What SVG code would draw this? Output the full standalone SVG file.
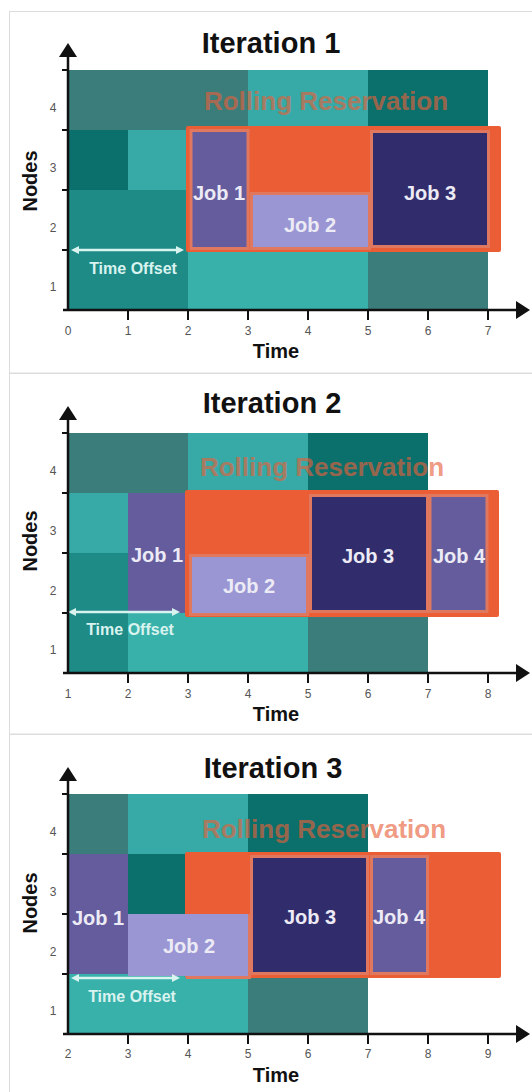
<svg xmlns="http://www.w3.org/2000/svg" width="532" height="1092" viewBox="0 0 532 1092">
<style>
.panel{fill:#fff;stroke:#dcdcdc;stroke-width:1}
.title{font-family:"Liberation Sans",Arial,sans-serif;font-weight:bold;font-size:29px;fill:#111;text-anchor:middle}
.axl{font-family:"Liberation Sans",Arial,sans-serif;font-weight:bold;font-size:20px;fill:#111;text-anchor:middle}
.tick{font-family:"Liberation Sans",Arial,sans-serif;font-size:12px;fill:#555;text-anchor:middle}
.job{font-family:"Liberation Sans",Arial,sans-serif;font-weight:bold;font-size:20px;fill:#ecebf5;text-anchor:middle}
.off{font-family:"Liberation Sans",Arial,sans-serif;font-weight:bold;font-size:16px;fill:#d9f3ef;text-anchor:middle}
.roll{font-family:"Liberation Sans",Arial,sans-serif;font-weight:bold;font-size:26px;fill:#e8603a;fill-opacity:0.65;text-anchor:middle}
.gt{fill:#3a7d7a}.lt{fill:#37a9a6}.dt{fill:#0b6f6c}.mt{fill:#1e8b87}.lt1{fill:#39b1ab}
.res{fill:#ea5d35}
.j1{fill:#655c9e}.j2{fill:#9a96d3}.j3{fill:#312d6c}
.jb{stroke:#e0785f;stroke-width:3}
.axis{stroke:#111;stroke-width:2.5;fill:none}
.tk{stroke:#111;stroke-width:2}
.offl{stroke:#d9f3ef;stroke-width:2.5}
</style>
<defs>
<marker id="ah" viewBox="0 0 14 18" refX="0" refY="9" markerWidth="14" markerHeight="18" markerUnits="userSpaceOnUse" orient="auto"><path d="M0,0 L14,9 L0,18 z" fill="#111"/></marker>
<marker id="oa" viewBox="0 0 8 8" refX="4" refY="4" markerWidth="8" markerHeight="8" markerUnits="userSpaceOnUse" orient="auto-start-reverse"><path d="M0,0 L8,4 L0,8 z" fill="#d9f3ef"/></marker>
</defs>

<!-- Panel 1 -->
<g id="panel1">
<rect class="panel" x="9.5" y="11.5" width="540" height="361.5"/>
<text class="title" x="271" y="53">Iteration 1</text>
<g id="p1-blocks">
<rect class="gt" x="68" y="70" width="180" height="60"/>
<rect class="lt" x="248" y="70" width="120" height="60"/>
<rect class="dt" x="368" y="70" width="120" height="60"/>
<rect class="dt" x="68" y="130" width="60" height="60"/>
<rect class="lt" x="128" y="130" width="60" height="60"/>
<rect class="mt" x="68" y="190" width="120" height="120"/>
<rect class="lt1" x="188" y="250" width="180" height="60"/>
<rect class="gt" x="368" y="250" width="120" height="60"/>
</g>
<text class="roll" x="326" y="110">Rolling Reservation</text>
<g id="p1-reservation">
<rect class="res" x="186" y="126" width="315" height="126" rx="2"/>
</g>
<g id="p1-job1"><rect class="j1 jb" x="191" y="130.5" width="57" height="118"/><text class="job" x="219" y="200">Job 1</text></g>
<g id="p1-job2"><rect class="j2 jb" x="251.5" y="193.5" width="118" height="55"/><text class="job" x="310" y="232">Job 2</text></g>
<g id="p1-job3"><rect class="j3 jb" x="371.5" y="131.5" width="117" height="115"/><text class="job" x="430" y="200">Job 3</text></g>
<g id="p1-offset">
<line class="offl" x1="75" y1="250" x2="180" y2="250" marker-start="url(#oa)" marker-end="url(#oa)"/>
<text class="off" x="133" y="274">Time Offset</text>
</g>
<g id="p1-axes">
<line class="axis" x1="63" y1="310" x2="516" y2="310" marker-end="url(#ah)"/>
<line class="axis" x1="68" y1="311" x2="68" y2="57" marker-end="url(#ah)"/>
<path class="tk" d="M62,70H68M62,130H68M62,190H68M62,250H68M128,310V320M188,310V320M248,310V320M308,310V320M368,310V320M428,310V320M488,310V320"/>
<text class="tick" x="53" y="112">4</text><text class="tick" x="53" y="172">3</text><text class="tick" x="53" y="232">2</text><text class="tick" x="53" y="291">1</text>
<text class="tick" x="68" y="335">0</text><text class="tick" x="128" y="335">1</text><text class="tick" x="188" y="335">2</text><text class="tick" x="248" y="335">3</text><text class="tick" x="308" y="335">4</text><text class="tick" x="368" y="335">5</text><text class="tick" x="428" y="335">6</text><text class="tick" x="488" y="335">7</text>
<text class="axl" x="276" y="358">Time</text>
<text class="axl" transform="translate(37,181) rotate(-90)">Nodes</text>
</g>
</g>

<!-- Panel 2 -->
<g id="panel2">
<rect class="panel" x="9.5" y="373.5" width="540" height="360.5"/>
<text class="title" x="272" y="413">Iteration 2</text>
<g id="p2-blocks">
<rect class="gt" x="68" y="433" width="120" height="60"/>
<rect class="lt" x="188" y="433" width="120" height="60"/>
<rect class="dt" x="308" y="433" width="120" height="60"/>
<rect class="lt" x="68" y="493" width="60" height="60"/>
<rect class="mt" x="68" y="553" width="60" height="120"/>
<rect class="lt1" x="128" y="613" width="180" height="60"/>
<rect class="gt" x="308" y="613" width="120" height="60"/>
</g>
<g id="p2-job1"><rect class="j1" x="128" y="493" width="60" height="120"/><text class="job" x="157" y="562">Job 1</text></g>
<text class="roll" x="322" y="476">Rolling Reservation</text>
<g id="p2-reservation">
<rect class="res" x="185" y="490" width="314" height="127" rx="2"/>
</g>
<g id="p2-job2"><rect class="j2 jb" x="190.5" y="555.5" width="117" height="59"/><text class="job" x="249" y="593">Job 2</text></g>
<g id="p2-job3"><rect class="j3 jb" x="310.5" y="495.5" width="117" height="116"/><text class="job" x="368" y="563">Job 3</text></g>
<g id="p2-job4"><rect class="j1 jb" x="430" y="495.5" width="57" height="116"/><text class="job" x="459" y="563">Job 4</text></g>
<g id="p2-offset">
<line class="offl" x1="72" y1="612" x2="176" y2="612" marker-start="url(#oa)" marker-end="url(#oa)"/>
<text class="off" x="130" y="635">Time Offset</text>
</g>
<g id="p2-axes">
<line class="axis" x1="63" y1="673" x2="516" y2="673" marker-end="url(#ah)"/>
<line class="axis" x1="68" y1="674" x2="68" y2="420" marker-end="url(#ah)"/>
<path class="tk" d="M62,433H68M62,493H68M62,553H68M62,613H68M128,673V683M188,673V683M248,673V683M308,673V683M368,673V683M428,673V683M488,673V683"/>
<text class="tick" x="53" y="475">4</text><text class="tick" x="53" y="535">3</text><text class="tick" x="53" y="595">2</text><text class="tick" x="53" y="654">1</text>
<text class="tick" x="68" y="698">1</text><text class="tick" x="128" y="698">2</text><text class="tick" x="188" y="698">3</text><text class="tick" x="248" y="698">4</text><text class="tick" x="308" y="698">5</text><text class="tick" x="368" y="698">6</text><text class="tick" x="428" y="698">7</text><text class="tick" x="488" y="698">8</text>
<text class="axl" x="276" y="721">Time</text>
<text class="axl" transform="translate(37,541) rotate(-90)">Nodes</text>
</g>
</g>

<!-- Panel 3 -->
<g id="panel3">
<rect class="panel" x="9.5" y="734.5" width="540" height="400"/>
<text class="title" x="273" y="778">Iteration 3</text>
<g id="p3-blocks">
<rect class="gt" x="68" y="794" width="60" height="60"/>
<rect class="lt" x="128" y="794" width="120" height="60"/>
<rect class="dt" x="248" y="794" width="120" height="60"/>
<rect class="dt" x="128" y="854" width="60" height="60"/>
<rect class="lt1" x="68" y="974" width="180" height="60"/>
<rect class="gt" x="248" y="974" width="120" height="60"/>
</g>
<g id="p3-job1"><rect class="j1" x="68" y="854" width="60" height="120"/><text class="job" x="98" y="925">Job 1</text></g>
<text class="roll" x="324" y="838">Rolling Reservation</text>
<g id="p3-reservation">
<rect class="res" x="185" y="852" width="316" height="126" rx="2"/>
</g>
<g id="p3-job2"><rect class="j2" x="128" y="914" width="120" height="62"/><path d="M249.5,914V977.5H186" fill="none" stroke="#e0785f" stroke-width="3"/><text class="job" x="189" y="953">Job 2</text></g>
<g id="p3-job3"><rect class="j3 jb" x="251.5" y="856.5" width="116" height="117"/><text class="job" x="310" y="924">Job 3</text></g>
<g id="p3-job4"><rect class="j1 jb" x="371.5" y="856.5" width="56" height="117"/><text class="job" x="399" y="924">Job 4</text></g>
<g id="p3-offset">
<line class="offl" x1="75" y1="978" x2="176" y2="978" marker-start="url(#oa)" marker-end="url(#oa)"/>
<text class="off" x="132" y="1002">Time Offset</text>
</g>
<g id="p3-axes">
<line class="axis" x1="63" y1="1034" x2="516" y2="1034" marker-end="url(#ah)"/>
<line class="axis" x1="68" y1="1035" x2="68" y2="781" marker-end="url(#ah)"/>
<path class="tk" d="M62,794H68M62,854H68M62,914H68M62,974H68M128,1034V1044M188,1034V1044M248,1034V1044M308,1034V1044M368,1034V1044M428,1034V1044M488,1034V1044"/>
<text class="tick" x="53" y="836">4</text><text class="tick" x="53" y="896">3</text><text class="tick" x="53" y="956">2</text><text class="tick" x="53" y="1015">1</text>
<text class="tick" x="68" y="1058">2</text><text class="tick" x="128" y="1058">3</text><text class="tick" x="188" y="1058">4</text><text class="tick" x="248" y="1058">5</text><text class="tick" x="308" y="1058">6</text><text class="tick" x="368" y="1058">7</text><text class="tick" x="428" y="1058">8</text><text class="tick" x="488" y="1058">9</text>
<text class="axl" x="276" y="1082">Time</text>
<text class="axl" transform="translate(37,903) rotate(-90)">Nodes</text>
</g>
</g>
</svg>
